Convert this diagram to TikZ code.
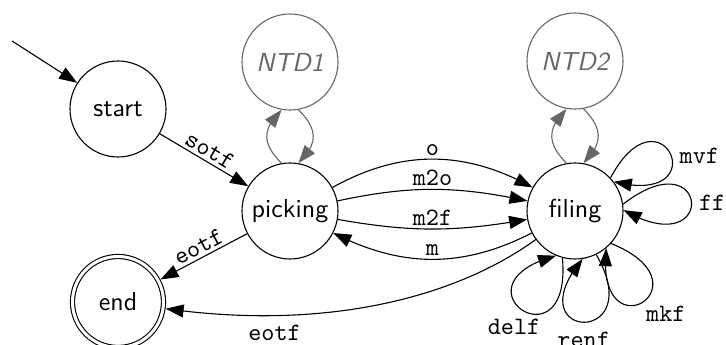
\documentclass[tikz,border=0pt]{standalone}
\usepackage{fontspec}
\usetikzlibrary{arrows.meta, bending}
\newfontfamily\statefont{lmsans10-regular}[Extension=.otf, ItalicFont=lmsans10-oblique]
\newfontfamily\labelfont{lmmono10-regular}[Extension=.otf]
\definecolor{ntdgray}{gray}{0.4}

\begin{document}
\begin{tikzpicture}[x=1pt, y=1pt, node distance=150pt]
    \tikzstyle{statenode} = [circle, draw=black, line width=1.1pt, minimum size=96pt, inner sep=0pt, font=\statefont\fontsize{26}{30}\selectfont]
    \tikzstyle{subnode} = [statenode, draw=ntdgray, text=ntdgray, font=\statefont\itshape\fontsize{26}{30}\selectfont]
    \tikzstyle{endnode} = [statenode, minimum size=91pt, double, double distance=3pt, outer sep=2.6pt]
    \tikzstyle{arrow} = [line width=1.1pt, -{Triangle[length=18pt, width=13pt]}]
    \tikzstyle{subarrow} = [arrow, ntdgray]
    \tikzstyle{lbl} = [font=\labelfont\fontsize{25}{28}\selectfont, inner sep=3pt]

    \useasboundingbox (0,0) rectangle (726,345);

    % Nodes
    \node (start) [statenode] at (118,236) {start};
    \node (end) [endnode, below of=start, node distance=193pt] {end};
    \node (picking) [statenode] at (290,134) {picking};
    \node (ntd1) [subnode, above of=picking, node distance=149pt] {NTD1};
    \node (filing) [statenode, right of=picking, node distance=285pt] {filing};
    \node (ntd2) [subnode, above of=filing] {NTD2};
    \coordinate (init) at (12,304);

    % Arrows
    \draw [arrow] (init) -- (start);
    \draw [arrow] (start) -- node[lbl, above, sloped] {sotf} (picking);
    \draw [arrow] (picking) -- node[lbl, above, sloped] {eotf} (end);
    \draw [arrow] (picking) to[bend left=29] node[lbl, above] {o} (filing);
    \draw [arrow] (picking) to[bend left=12] node[lbl, above] {m2o} (filing);
    \draw [arrow] (picking) to[bend right=10] node[lbl, above] {m2f} (filing);
    \draw [arrow] (filing) to[bend left=27] node[lbl, above] {m} (picking);
    \draw [arrow] (filing) to[out=216, in=-8, out distance=100pt, in distance=160pt] node[lbl, below=6pt, pos=0.76] {eotf} (end);

    % Sub-diagram arcs
    \draw [subarrow] (picking.100) to[out=135, in=225, distance=28pt] (ntd1.260);
    \draw [subarrow] (ntd1.280) to[out=-45, in=45, distance=28pt] (picking.80);
    \draw [subarrow] (filing.100) to[out=135, in=225, distance=28pt] (ntd2.260);
    \draw [subarrow] (ntd2.280) to[out=-45, in=45, distance=28pt] (filing.80);

    % Self loops on filing
    \draw [arrow] (filing.43) to[out=62, in=-14, distance=108pt] node[lbl, right, pos=0.55, xshift=4pt, yshift=3pt] {mvf} (filing.37);
    \draw [arrow] (filing.8) to[out=38, in=-30, distance=110pt] node[lbl, right, xshift=4pt] {ff} (filing.1);
    \draw [arrow] (filing.318) to[out=338, in=264, distance=110pt] node[lbl, below right] {mkf} (filing.310);
    \draw [arrow] (filing.296) to[out=300, in=230, distance=107pt] node[lbl, below=6pt] {renf} (filing.279);
    \draw [arrow] (filing.255) to[out=275, in=195, distance=113pt] node[lbl, below=6pt, xshift=-8pt] {delf} (filing.247);
\end{tikzpicture}
\end{document}
